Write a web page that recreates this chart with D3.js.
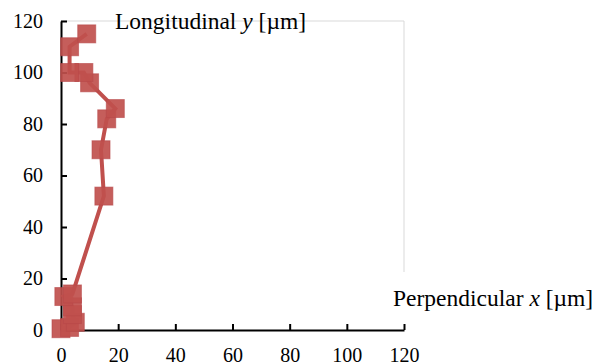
<!DOCTYPE html>
<html>
<head>
<meta charset="utf-8">
<script src="https://cdn.jsdelivr.net/npm/d3@7"></script>
<style>
  body { margin: 0; background: #fff; }
  svg { display: block; }
  .tick text { font-family: "Liberation Serif", "DejaVu Serif", serif; font-size: 20px; fill: #000; }
  .title { font-family: "Liberation Serif", "DejaVu Serif", serif; font-size: 23.5px; fill: #000; }
</style>
</head>
<body>
<div id="chart"></div>
<script>

//******************************************************************************
//**  Data
//******************************************************************************
var xValues = [0, 3, 5, 4, 4, 1, 4, 15, 14, 16, 19, 10, 8, 3, 3, 9];
var yValues = [0.5, 1, 3, 6, 9, 13, 14, 52, 70, 82, 86, 96, 100, 100, 110, 115];
var xTicks = [0, 20, 40, 60, 80, 100, 120];
var yTicks = [0, 20, 40, 60, 80, 100, 120];
var xTitle = ["Perpendicular ", "x", " [µm]"];
var yTitle = ["Longitudinal ", "y", " [µm]"];


//******************************************************************************
//**  Chart
//******************************************************************************
var width = 598, height = 362;
var plotLeft = 61, plotRight = 404, plotTop = 21, plotBottom = 330;

var svg = d3.select("#chart").append("svg")
    .attr("width", width)
    .attr("height", height);

var x = d3.scaleLinear().domain([0, 120]).range([plotLeft, plotRight]);
var y = d3.scaleLinear().domain([0, 120]).range([plotBottom, plotTop]);

var points = xValues.map(function(v, i){ return [v, yValues[i]]; });


//light plot border (top + right)
svg.append("path")
    .attr("d", "M" + plotLeft + "," + plotTop + "H" + plotRight + "V" + 272)
    .attr("fill", "none")
    .attr("stroke", "#d9d9d9")
    .attr("stroke-width", 1);


//axes
var xAxis = svg.append("g")
    .attr("transform", "translate(0," + plotBottom + ")")
    .call(d3.axisBottom(x).tickValues(xTicks).tickSizeInner(-6).tickSizeOuter(0).tickPadding(14));

var yAxis = svg.append("g")
    .attr("transform", "translate(" + plotLeft + ",0)")
    .call(d3.axisLeft(y).tickValues(yTicks).tickSizeInner(-6).tickSizeOuter(0).tickPadding(18));

[xAxis, yAxis].forEach(function(g){
    g.select(".domain").attr("stroke", "#000").attr("stroke-width", 2);
    g.selectAll(".tick line").attr("stroke", "#000").attr("stroke-width", 2);
});
xAxis.selectAll(".tick text").attr("dy", "0.9em");


//series line
var line = d3.line()
    .x(function(d){ return x(d[0]); })
    .y(function(d){ return y(d[1]); });

svg.append("path")
    .datum(points)
    .attr("d", line)
    .attr("fill", "none")
    .attr("stroke", "#c0504d")
    .attr("stroke-width", 4);


//markers
var size = 18;
svg.selectAll("rect.marker")
    .data(points)
    .enter()
    .append("rect")
    .attr("class", "marker")
    .attr("x", function(d){ return x(d[0]) - size/2; })
    .attr("y", function(d){ return y(d[1]) - size/2; })
    .attr("width", size)
    .attr("height", size)
    .attr("fill", "#c0504d")
    .attr("fill-opacity", 0.92)
    .attr("stroke", "#b8474a")
    .attr("stroke-opacity", 0.6)
    .attr("stroke-width", 1);


//axis titles
var addTitle = function(parts, px, py){
    var t = svg.append("text").attr("class", "title").attr("x", px).attr("y", py);
    parts.forEach(function(p, i){
        var s = t.append("tspan").text(p);
        if (i === 1) s.attr("font-style", "italic");
    });
};
addTitle(yTitle, 115, 29);
addTitle(xTitle, 393, 306);

</script>
</body>
</html>
